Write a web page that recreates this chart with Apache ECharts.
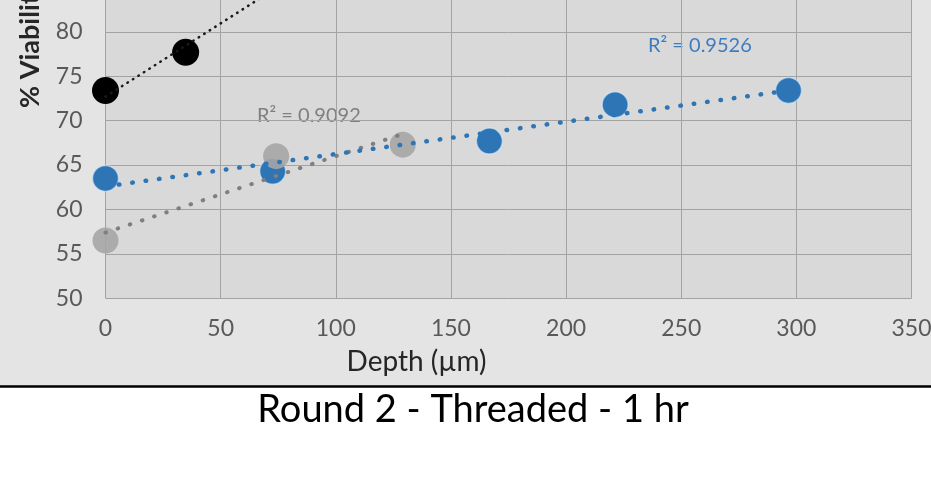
<!DOCTYPE html>
<html>
<head>
<meta charset="utf-8">
<script src="https://cdn.jsdelivr.net/npm/echarts@6/dist/echarts.min.js"></script>
<style>
  body { margin: 0; background: #fff; overflow: hidden; }
  #box { position: relative; width: 931px; height: 485px; overflow: hidden; }
  #myChart { position: absolute; left: 0; top: -57px; width: 931px; height: 542px; }
</style>
</head>
<body>
<div id="box"><div id="myChart"></div></div>
<script>
// depth (um) and % viability
var depthBlack = [0, 34.8]
var viabBlack = [73.4, 77.7]
var depthGray = [0, 74.1, 129.1]
var viabGray = [56.5, 66.0, 67.3]
var depthBlue = [0, 72.6, 166.7, 221.3, 296.6]
var viabBlue = [63.5, 64.3, 67.7, 71.8, 73.4]

// trend line ends (x, y)
var trendBlack = [[0, 72.7], [100, 89.2]]
var trendGray = [[0, 57.4], [129.1, 68.5]]
var trendBlue = [[0, 62.6], [296.6, 73.4]]

var r2Gray = 'R² = 0.9092'
var r2Blue = 'R² = 0.9526'

var xTicks = [0, 50, 100, 150, 200, 250, 300, 350]
var yTicks = [50, 55, 60, 65, 70, 75, 80, 85, 90]

function pairs (xs, ys) {
  return xs.map(function (x, i) { return [x, ys[i]] })
}

var font = 'Lato, "Open Sans", sans-serif'
var off = 57 // chart is shifted up, top of the plot is cut off
var myChart = echarts.init(document.getElementById('myChart'))

var options = {
  backgroundColor: '#fff',
  animation: false,
  textStyle: { fontFamily: font },
  grid: {
    left: 105.5,
    right: 19.5,
    top: 0,
    bottom: 186.7,
    outerBoundsMode: 'none',
    containLabel: false,
    show: true,
    backgroundColor: '#d9d9d9',
    borderWidth: 0
  },
  xAxis: {
    type: 'value',
    min: xTicks[0],
    max: xTicks[xTicks.length - 1],
    interval: 50,
    axisLine: { show: false },
    axisTick: { show: false },
    axisLabel: { color: '#595959', fontSize: 23, margin: 19, fontFamily: font },
    splitLine: { show: true, lineStyle: { color: '#a3a3a3', width: 1 } }
  },
  yAxis: {
    type: 'value',
    min: yTicks[0],
    max: yTicks[yTicks.length - 1],
    interval: 5,
    axisLine: { show: false },
    axisTick: { show: false },
    axisLabel: { color: '#595959', fontSize: 23, margin: 23, fontFamily: font },
    splitLine: { show: true, lineStyle: { color: '#a3a3a3', width: 1 } }
  },
  graphic: [
    { type: 'rect', z: -10, silent: true, shape: { x: 0, y: 0, width: 931, height: 386 + off }, style: { fill: '#e4e4e4' } },
    { type: 'line', z: -5, silent: true, shape: { x1: 0, y1: 386.5 + off, x2: 931, y2: 386.5 + off }, style: { stroke: '#000', lineWidth: 2.5 } },
    { type: 'text', x: 30, y: 108 + off, rotation: Math.PI / 2,
      style: { text: '% Viability', fontSize: 27, fontWeight: 'bold', fill: '#262626', fontFamily: font, textAlign: 'left', textVerticalAlign: 'middle' } },
    { type: 'text', x: 416.5, y: 362 + off,
      style: { text: 'Depth (µm)', fontSize: 28, fill: '#262626', fontFamily: font, textAlign: 'center', textVerticalAlign: 'middle' } },
    { type: 'text', x: 257, y: 116 + off,
      style: { text: r2Gray, fontSize: 20, fill: '#7f7f7f', fontFamily: font, textAlign: 'left', textVerticalAlign: 'middle' } },
    { type: 'text', x: 648, y: 46 + off,
      style: { text: r2Blue, fontSize: 20, fill: '#3f7cbf', fontFamily: font, textAlign: 'left', textVerticalAlign: 'middle' } },
    { type: 'text', x: 473, y: 410 + off,
      style: { text: 'Round 2 - Threaded - 1 hr', fontSize: 38, fill: '#000', fontFamily: font, textAlign: 'center', textVerticalAlign: 'middle' } }
  ],
  series: [{
    name: 'blue',
    type: 'scatter',
    data: pairs(depthBlue, viabBlue),
    symbolSize: 26,
    itemStyle: { color: '#2e75b6', opacity: 1, borderColor: 'rgba(220,235,250,0.6)', borderWidth: 1.5 },
    z: 2
  }, {
    name: 'gray',
    type: 'scatter',
    data: pairs(depthGray, viabGray),
    symbolSize: 26,
    itemStyle: { color: '#a5a5a5', opacity: 0.9 },
    z: 3
  }, {
    name: 'black',
    type: 'scatter',
    data: pairs(depthBlack, viabBlack),
    symbolSize: 27,
    itemStyle: { color: '#000', opacity: 1 },
    z: 3
  }, {
    name: 'trendBlack',
    type: 'line',
    data: trendBlack,
    symbol: 'none',
    lineStyle: { color: '#1a1a1a', width: 2.5, type: [0.5, 6], cap: 'round' },
    z: 4
  }, {
    name: 'trendGray',
    type: 'line',
    data: trendGray,
    symbol: 'none',
    lineStyle: { color: '#7f7f7f', width: 4, type: [0.5, 12.3], cap: 'round' },
    z: 4
  }, {
    name: 'trendBlue',
    type: 'line',
    data: trendBlue,
    symbol: 'none',
    lineStyle: { color: '#2e75b6', width: 4.5, type: [0.5, 13], cap: 'round' },
    z: 5
  }]
}

myChart.setOption(options)
</script>
</body>
</html>
